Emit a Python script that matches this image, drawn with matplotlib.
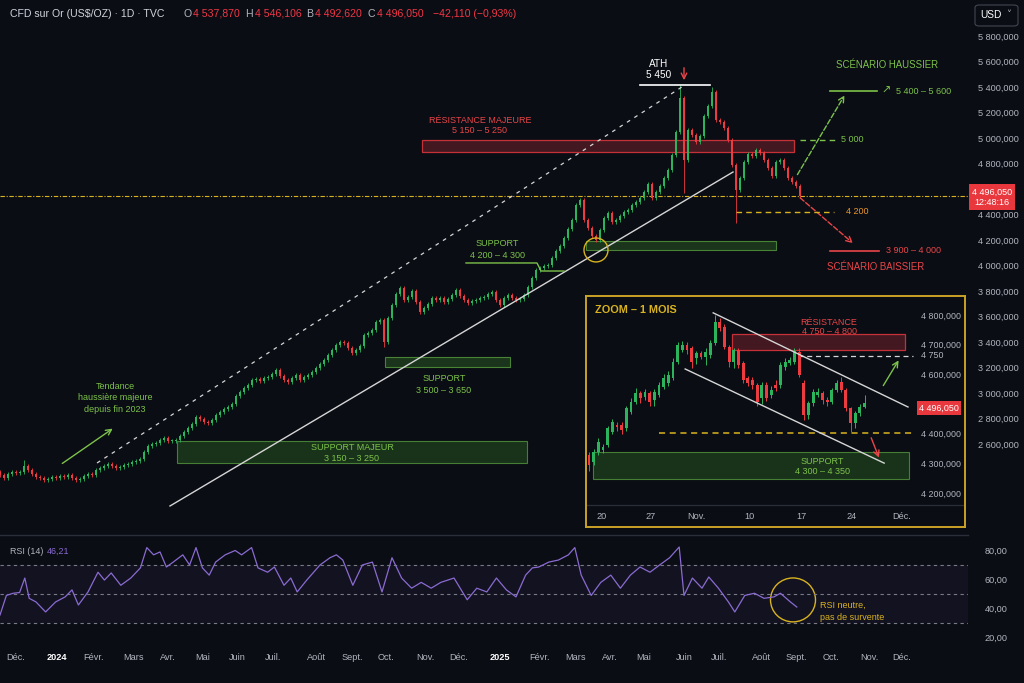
#%%
# gold daily chart with annotations, zoom inset and RSI pane
import numpy as np
import matplotlib.pyplot as plt
from matplotlib.patches import Rectangle, Ellipse, FancyBboxPatch

plt.rcParams['font.family'] = ['Liberation Sans', 'DejaVu Sans']

# main chart closes, one candle per slot (Dec 2023 -> now)
closes = [2358, 2334, 2366, 2381, 2374, 2381, 2428, 2397, 2366, 2342,
          2334, 2319, 2327, 2342, 2334, 2350, 2342, 2358, 2334, 2319,
          2327, 2350, 2366, 2358, 2397, 2413, 2428, 2444, 2428, 2413,
          2421, 2436, 2444, 2460, 2468, 2483, 2538, 2585, 2601, 2609,
          2632, 2648, 2624, 2624, 2632, 2664, 2695, 2726, 2758, 2813,
          2797, 2773, 2766, 2789, 2828, 2852, 2875, 2891, 2915, 2977,
          3009, 3040, 3064, 3103, 3111, 3095, 3118, 3126, 3150, 3181,
          3134, 3103, 3087, 3118, 3142, 3103, 3126, 3142, 3165, 3197,
          3228, 3260, 3299, 3338, 3377, 3401, 3393, 3354, 3314, 3338,
          3369, 3456, 3471, 3495, 3557, 3573, 3401, 3589, 3691, 3777,
          3824, 3730, 3753, 3800, 3714, 3636, 3667, 3699, 3746, 3730,
          3746, 3714, 3738, 3769, 3808, 3761, 3730, 3706, 3722, 3730,
          3746, 3753, 3777, 3793, 3730, 3691, 3746, 3769, 3746, 3730,
          3738, 3769, 3832, 3902, 3965, 3981, 3996, 4004, 4059, 4114,
          4153, 4216, 4287, 4357, 4475, 4514, 4357, 4294, 4232, 4200,
          4279, 4373, 4412, 4341, 4357, 4388, 4420, 4436, 4475, 4498,
          4530, 4577, 4639, 4530, 4577, 4624, 4686, 4749, 4867, 5047,
          5314, 4828, 5063, 5024, 4969, 5016, 5172, 5251, 5361, 5141,
          5125, 5078, 4984, 4788, 4592, 4686, 4812, 4875, 4859, 4906,
          4882, 4828, 4765, 4702, 4812, 4828, 4765, 4686, 4655, 4624,
          4545]
first_open = 2380
high_fix = {6: 2476, 145: 4530, 170: 5416, 178: 5400}
low_fix = {96: 3360, 171: 4569, 184: 4334}

# zoom 1 month inset
in_open = [4328, 4306, 4339, 4345, 4362, 4407, 4429, 4429, 4418, 4474,
           4508, 4536, 4525, 4536, 4513, 4530, 4558, 4570, 4587, 4643,
           4682, 4699, 4688, 4654, 4671, 4660, 4665, 4705, 4777, 4761,
           4693, 4643, 4682, 4637, 4587, 4581, 4564, 4520, 4564, 4530,
           4564, 4564, 4626, 4637, 4643, 4676, 4570, 4463, 4502, 4530,
           4536, 4513, 4508, 4547, 4575, 4547, 4485, 4435, 4469, 4491]
in_close = [4294, 4339, 4373, 4356, 4418, 4440, 4423, 4413, 4485, 4508,
            4536, 4519, 4541, 4508, 4541, 4564, 4587, 4598, 4643, 4699,
            4699, 4682, 4643, 4671, 4660, 4676, 4705, 4777, 4755, 4693,
            4643, 4682, 4631, 4581, 4570, 4564, 4508, 4564, 4519, 4547,
            4553, 4631, 4643, 4648, 4680, 4598, 4463, 4502, 4541, 4541,
            4513, 4508, 4547, 4570, 4547, 4485, 4435, 4469, 4491, 4502]
in_high = [4340, 4350, 4385, 4365, 4425, 4450, 4440, 4440, 4495, 4520,
           4555, 4545, 4550, 4545, 4550, 4575, 4600, 4610, 4655, 4710,
           4712, 4708, 4695, 4680, 4680, 4690, 4715, 4800, 4790, 4770,
           4700, 4690, 4688, 4645, 4595, 4590, 4570, 4575, 4575, 4560,
           4580, 4640, 4655, 4660, 4690, 4690, 4580, 4510, 4550, 4555,
           4545, 4525, 4555, 4580, 4590, 4555, 4490, 4478, 4500, 4530]
in_low = [4275, 4295, 4330, 4335, 4355, 4400, 4410, 4400, 4410, 4465,
          4500, 4505, 4515, 4495, 4495, 4525, 4550, 4560, 4580, 4635,
          4675, 4670, 4620, 4635, 4650, 4630, 4655, 4700, 4745, 4685,
          4625, 4620, 4620, 4570, 4560, 4550, 4495, 4500, 4510, 4520,
          4545, 4555, 4615, 4630, 4635, 4590, 4445, 4450, 4495, 4525,
          4500, 4495, 4500, 4540, 4540, 4475, 4405, 4420, 4460, 4485]
in_tick_labels = ['20', '27', 'Nov.', '10', '17', '24', 'Déc.']
in_tick_pos = [2.8, 13.3, 23.1, 34.3, 45.4, 56.3, 67.0]

# RSI (14), x in candle slots
rsi_x = [0, 1.6, 3.3, 4.9, 6.2, 7.3, 9.0, 11.4, 13.9, 16.3,
         18.0, 19.6, 22.0, 24.5, 26.1, 27.8, 30.2, 32.7, 35.1, 36.7,
         38.4, 40.0, 41.6, 43.3, 45.7, 47.4, 49.0, 50.6, 52.3, 53.9,
         56.3, 58.8, 60.4, 62.9, 64.5, 66.9, 68.6, 71.0, 72.7, 74.3,
         76.7, 80.0, 82.5, 84.1, 85.7, 88.2, 90.6, 93.1, 95.5, 98.0,
         100.4, 102.9, 105.3, 107.8, 110.2, 113.5, 116.8, 119.2, 121.7, 124.1,
         126.6, 129.0, 131.4, 133.1, 134.7, 137.2, 139.6, 142.1, 143.7, 145.3,
         147.8, 150.2, 152.7, 155.1, 157.6, 160.0, 162.5, 164.9, 167.4, 169.8,
         171.0, 173.1, 175.5, 177.2, 179.6, 182.1, 183.7, 186.2, 188.6, 191.0,
         193.5, 195.1, 197.6, 199.2]
rsi_val = [35.5, 49, 50.5, 51, 61, 47, 44.5, 37.6, 44.5, 48,
           52.8, 42.4, 51.4, 65, 59.6, 64.5, 56, 61, 68, 82,
           77, 79, 68.6, 72, 77, 70, 82, 68, 63, 72,
           77, 80, 77, 82, 68, 65, 68.6, 56, 61, 51.4,
           59.6, 70, 75, 77, 73.4, 56, 70, 72, 51.4, 75,
           61, 54, 58, 54, 58, 61, 46, 54, 51.4, 61,
           52.8, 48, 63, 68, 68.6, 72, 73.4, 77, 82, 63,
           49, 58, 63, 54, 63, 68.6, 65, 70, 75, 82.4,
           49, 61, 54, 61.7, 54, 44.5, 37.6, 49, 50.5, 47,
           48, 50.5, 44.5, 41]

month_labels = ['Déc.', '2024', 'Févr.', 'Mars', 'Avr.', 'Mai', 'Juin', 'Juil.', 'Août',
                'Sept.', 'Oct.', 'Nov.', 'Déc.', '2025', 'Févr.', 'Mars', 'Avr.', 'Mai',
                'Juin', 'Juil.', 'Août', 'Sept.', 'Oct.', 'Nov.', 'Déc.']
month_pos = [4, 14.25, 23.25, 33.5, 42, 50.75, 59.25, 68.25, 79, 88, 96.5, 106.25,
             114.75, 125, 134.75, 143.75, 152.5, 161, 171, 179.75, 190.25, 199,
             207.75, 217.25, 225.5]
price_ticks = [2600, 2800, 3000, 3200, 3400, 3600, 3800, 4000, 4200, 4400,
               4800, 5000, 5200, 5400, 5600, 5800]
rsi_ticks = [20, 40, 60, 80]

#%%
BG = '#0a0d14'
GREY = '#b2b5be'
UP = '#2bb45c'
DOWN = '#ee3b40'
GREEN_TXT = '#7dc24a'
RED_TXT = '#ea4548'
YELLOW = '#d9b31f'
ORANGE = '#e8962e'
LINE_W = '#d6d6d6'
ANN = 6.5   # annotation font size

W, H = 1024, 683
def fx(x): return x / W
def fy(y): return 1 - y / H

def fmt_price(v):
    return f"{v:,.0f}".replace(",", " ") + ",000"

def candles(ax, xs, o, h, l, c, width, lw, min_body):
    o = np.asarray(o, float); c = np.asarray(c, float)
    cols = np.where(c >= o, UP, DOWN)
    ax.vlines(xs, l, h, colors=cols, lw=lw, zorder=3)
    ax.bar(xs, np.maximum(np.abs(c - o), min_body), width, bottom=np.minimum(o, c),
           color=cols, lw=0, zorder=4)

fig = plt.figure(figsize=(10.24, 6.83), dpi=100, facecolor=BG)

#%%
# main pane
ax = fig.add_axes([0, fy(532), fx(968), (532 - 28) / H], facecolor=BG)
xs = np.arange(len(closes))
opens = np.array([first_open] + closes[:-1], float)
cl = np.array(closes, float)
highs = np.maximum(opens, cl) + 15
lows = np.minimum(opens, cl) - 15
for k, v in high_fix.items(): highs[k] = v
for k, v in low_fix.items(): lows[k] = v
candles(ax, xs, opens, highs, lows, cl, 0.72, 0.6, 6)
ax.set_xlim(0, 242)
ax.set_ylim(1911, 5862)
for s in ax.spines.values(): s.set_visible(False)
ax.set_xticks([])
ax.set_yticks(price_ticks)
ax.set_yticklabels([fmt_price(v) for v in price_ticks])
ax.tick_params(axis='y', right=True, left=False, labelright=True, labelleft=False,
               length=0, pad=7, labelsize=6.6, colors=GREY)

# current price line
ax.axhline(closes[-1], color=YELLOW, ls=(0, (4, 1.5, 1, 1.5)), lw=0.8, zorder=2)

# trend lines
ax.plot([24.25, 170.5], [2452, 5400], color=LINE_W, ls=(0, (3, 4)), lw=0.9, zorder=5)
ax.plot([42.5, 183.25], [2115, 4733], color=LINE_W, lw=1.0, zorder=5)

# ATH
ax.plot([160, 177.5], [5416, 5416], color='white', lw=1.2, zorder=5)
ax.text(164.75, 5580, 'ATH', color='white', ha='center', va='center', fontsize=7.2)
ax.text(164.75, 5494, '5 450', color='white', ha='center', va='center', fontsize=7.2)
ax.annotate('', xy=(171, 5431), xytext=(171, 5572),
            arrowprops=dict(arrowstyle='->', color=RED_TXT, lw=1.0))

# zones
ax.add_patch(Rectangle((105.5, 4890), 93, 94, fc='#4a1a22', ec='#d8353b', lw=0.9, alpha=0.9, zorder=2))
ax.text(120, 5133, 'RÉSISTANCE MAJEURE', color=RED_TXT, ha='center', va='center', fontsize=ANN)
ax.text(120, 5055, '5 150 – 5 250', color=RED_TXT, ha='center', va='center', fontsize=ANN)

ax.add_patch(Rectangle((146.5, 4122), 47.5, 70, fc='#1c3a1c', ec='#4f8f3a', lw=0.8, alpha=0.9, zorder=2))
ax.add_patch(Ellipse((149, 4122), 6, 188, fill=False, ec=YELLOW, lw=1.0, zorder=6))
ax.text(124.25, 4169, 'SUPPORT', color=GREEN_TXT, ha='center', va='center', fontsize=ANN)
ax.text(124.25, 4075, '4 200 – 4 300', color=GREEN_TXT, ha='center', va='center', fontsize=ANN)
ax.plot([116.5, 134.25, 135.25, 141], [4020, 4020, 3957, 3957], color=GREEN_TXT, lw=1.0, zorder=5)

ax.add_patch(Rectangle((96.25, 3205), 31.25, 78, fc='#1c3a1c', ec='#4f8f3a', lw=0.8, alpha=0.9, zorder=2))
ax.text(111, 3118, 'SUPPORT', color=GREEN_TXT, ha='center', va='center', fontsize=ANN)
ax.text(111, 3024, '3 500 – 3 650', color=GREEN_TXT, ha='center', va='center', fontsize=ANN)

ax.add_patch(Rectangle((44.25, 2452), 87.5, 173, fc='#1c3a1c', ec='#4f8f3a', lw=0.8, alpha=0.85, zorder=2))
ax.text(88, 2570, 'SUPPORT MAJEUR', color=GREEN_TXT, ha='center', va='center', fontsize=ANN)
ax.text(88, 2491, '3 150 – 3 250', color=GREEN_TXT, ha='center', va='center', fontsize=ANN)

ax.text(28.75, 3048, 'Tendance', color=GREEN_TXT, ha='center', va='center', fontsize=ANN)
ax.text(28.75, 2962, 'haussière majeure', color=GREEN_TXT, ha='center', va='center', fontsize=ANN)
ax.text(28.75, 2868, 'depuis fin 2023', color=GREEN_TXT, ha='center', va='center', fontsize=ANN)
ax.annotate('', xy=(28.75, 2734), xytext=(15, 2436),
            arrowprops=dict(arrowstyle='->', color=GREEN_TXT, lw=1.0))

# scenarios
ax.plot([200, 209], [4984, 4984], color=GREEN_TXT, ls=(0, (4, 3)), lw=1.0, zorder=5)
ax.text(210.25, 4984, '5 000', color=GREEN_TXT, ha='left', va='center', fontsize=ANN)
ax.annotate('', xy=(211.5, 5353), xytext=(199, 4694),
            arrowprops=dict(arrowstyle='->', color=GREEN_TXT, lw=1.0, ls='--'))
ax.text(221.75, 5572, 'SCÉNARIO HAUSSIER', color=GREEN_TXT, ha='center', va='center', fontsize=6.9)
ax.plot([207.5, 219.25], [5368, 5368], color=GREEN_TXT, lw=1.2, zorder=5)
ax.text(220.3, 5368, '↗', color=GREEN_TXT, ha='left', va='center', fontsize=8, family='DejaVu Sans')
ax.text(224, 5368, '5 400 – 5 600', color=GREEN_TXT, ha='left', va='center', fontsize=ANN)

ax.annotate('', xy=(213.75, 4161), xytext=(199.5, 4545),
            arrowprops=dict(arrowstyle='->', color=RED_TXT, lw=1.0, ls='--'))
ax.plot([184, 208.5], [4420, 4420], color=YELLOW, ls=(0, (4, 3)), lw=1.0, zorder=5)
ax.text(211.5, 4420, '4 200', color=ORANGE, ha='left', va='center', fontsize=ANN)
ax.plot([207.5, 219.75], [4114, 4114], color=RED_TXT, lw=1.2, zorder=5)
ax.text(221.5, 4114, '3 900 – 4 000', color=RED_TXT, ha='left', va='center', fontsize=ANN)
ax.text(219, 3989, 'SCÉNARIO BAISSIER', color=RED_TXT, ha='center', va='center', fontsize=6.9)

#%%
# RSI pane
ax_r = fig.add_axes([0, fy(645), fx(968), 108 / H], facecolor=BG)
ax_r.set_xlim(0, 242)
ax_r.set_ylim(14.8, 89.3)
ax_r.axhspan(30, 70, color='#7e57c2', alpha=0.08, lw=0)
for lvl in (30, 50, 70):
    ax_r.axhline(lvl, color='#787b86', ls=(0, (3, 3)), lw=0.8)
ax_r.plot(rsi_x, rsi_val, color='#8a6bd1', lw=0.9)
ax_r.add_patch(Ellipse((198.25, 45.9), 11.25, 30.3, fill=False, ec=YELLOW, lw=1.0))
ax_r.text(205, 42.0, 'RSI neutre,', color=YELLOW, ha='left', va='center', fontsize=ANN)
ax_r.text(205, 33.5, 'pas de survente', color=YELLOW, ha='left', va='center', fontsize=ANN)
for s in ax_r.spines.values(): s.set_visible(False)
ax_r.set_yticks(rsi_ticks)
ax_r.set_yticklabels([f"{v},00" for v in rsi_ticks])
ax_r.tick_params(axis='y', right=True, left=False, labelright=True, labelleft=False,
                 length=0, pad=12, labelsize=6.6, colors=GREY)
ax_r.set_xticks(month_pos)
ax_r.set_xticklabels(month_labels)
ax_r.tick_params(axis='x', length=0, pad=6, labelsize=6.6, colors=GREY)
for t in ax_r.get_xticklabels():
    if t.get_text() in ('2024', '2025'):
        t.set_color('white'); t.set_fontweight('bold')

fig.add_artist(plt.Line2D([0, fx(968)], [fy(535), fy(535)], color='#2a2e39', lw=1.0))
fig.text(fx(10), fy(551), 'RSI (14)', color=GREY, fontsize=6.4, va='center')
fig.text(fx(47), fy(551), '46,21', color='#8a6bd1', fontsize=6.4, va='center')

#%%
# zoom inset
frame = fig.add_axes([fx(586), fy(527), fx(965 - 586), (527 - 296) / H], facecolor=BG, zorder=5)
frame.set_xticks([]); frame.set_yticks([])
frame.set_xlim(0, 1); frame.set_ylim(0, 1)
for s in frame.spines.values():
    s.set_color('#c9a227'); s.set_linewidth(1.4)
frame.axhline((527 - 505) / 231, color='#2a2e39', lw=0.9)

ax_i = fig.add_axes([fx(588), fy(505), fx(915 - 588), (505 - 298) / H], facecolor='none', zorder=6)
ix = np.arange(len(in_close))
candles(ax_i, ix, in_open, in_high, in_low, in_close, 0.62, 0.7, 2)
ax_i.set_xlim(-0.2, 69.8)
ax_i.set_ylim(4160, 4857)
for s in ax_i.spines.values(): s.set_visible(False)
in_yt = [4200, 4300, 4400, 4600, 4700, 4800]
ax_i.set_yticks(in_yt)
ax_i.set_yticklabels([fmt_price(v) for v in in_yt])
ax_i.tick_params(axis='y', right=True, left=False, labelright=True, labelleft=False,
                 length=0, pad=4, labelsize=6.4, colors=GREY)
ax_i.set_xticks(in_tick_pos)
ax_i.set_xticklabels(in_tick_labels)
ax_i.tick_params(axis='x', length=0, pad=5, labelsize=6.6, colors=GREY)

ax_i.plot([26.6, 68.3], [4807, 4490], color=LINE_W, lw=1.0, zorder=5)
ax_i.plot([20.6, 63.2], [4618, 4301], color=LINE_W, lw=1.0, zorder=5)
ax_i.add_patch(Rectangle((30.6, 4682), 37.1, 54, fc='#4a1a22', ec='#d8353b', lw=0.9, alpha=0.9, zorder=2))
ax_i.text(51.4, 4773, 'RÉSISTANCE', color=RED_TXT, ha='center', va='center', fontsize=ANN)
ax_i.text(51.4, 4743, '4 750 – 4 800', color=RED_TXT, ha='center', va='center', fontsize=ANN)
ax_i.plot([44.8, 69.4], [4662, 4662], color=LINE_W, ls=(0, (4, 3)), lw=0.9)
ax_i.text(71.0, 4662, '4 750', color=GREY, ha='left', va='center', fontsize=6.4, clip_on=False)
ax_i.plot([15, 69.4], [4402, 4402], color=YELLOW, ls=(0, (4, 3)), lw=1.1)
ax_i.add_patch(Rectangle((0.86, 4247), 67.6, 91, fc='#1c3a1c', ec='#4f8f3a', lw=0.8, alpha=0.85, zorder=2))
ax_i.text(49.9, 4308, 'SUPPORT', color=GREEN_TXT, ha='center', va='center', fontsize=ANN)
ax_i.text(49.9, 4274, '4 300 – 4 350', color=GREEN_TXT, ha='center', va='center', fontsize=ANN)
ax_i.annotate('', xy=(66.6, 4655), xytext=(62.7, 4554),
              arrowprops=dict(arrowstyle='->', color=GREEN_TXT, lw=1.0))
ax_i.annotate('', xy=(62.3, 4311), xytext=(60.2, 4395),
              arrowprops=dict(arrowstyle='->', color=RED_TXT, lw=1.0))
ax_i.text(1.3, 4817, 'ZOOM – 1 MOIS', color=YELLOW, ha='left', va='center',
          fontsize=7.8, fontweight='bold')
fig.text(fx(939), fy(408), '4 496,050', color='white', ha='center', va='center', fontsize=6.4,
         zorder=7, bbox=dict(boxstyle='square,pad=0.25', fc='#e8383d', ec='none'))

#%%
# header and price scale labels
title_parts = [("CFD sur Or (US$/OZ) · 1D · TVC", 10, '#d1d4dc'),
               ("O", 183, GREY), ("4 537,870", 193, '#f23645'),
               ("H", 245, GREY), ("4 546,106", 255, '#f23645'),
               ("B", 306, GREY), ("4 492,620", 315, '#f23645'),
               ("C", 368, GREY), ("4 496,050", 377, '#f23645'),
               ("−42,110 (−0,93%)", 433, '#f23645')]
for txt, xp, col in title_parts:
    fig.text(fx(xp), fy(14), txt, color=col, fontsize=7.6, va='center')

fig.text(fx(992), fy(197), '4 496,050\n12:48:16', color='white', ha='center', va='center',
         fontsize=6.5, linespacing=1.15,
         bbox=dict(boxstyle='square,pad=0.35', fc='#e8383d', ec='none'))

fig.patches.append(FancyBboxPatch((fx(975), fy(26)), fx(43), 21 / H,
                                  boxstyle='round,pad=0,rounding_size=0.004',
                                  transform=fig.transFigure, fc='none', ec='#434651', lw=0.8))
fig.text(fx(980), fy(15.5), 'USD', color='white', fontsize=7.3, va='center')
fig.text(fx(1006), fy(15.5), '˅', color=GREY, fontsize=7, va='center', family='DejaVu Sans')

fig.savefig('out.png', dpi=100, facecolor=BG)
